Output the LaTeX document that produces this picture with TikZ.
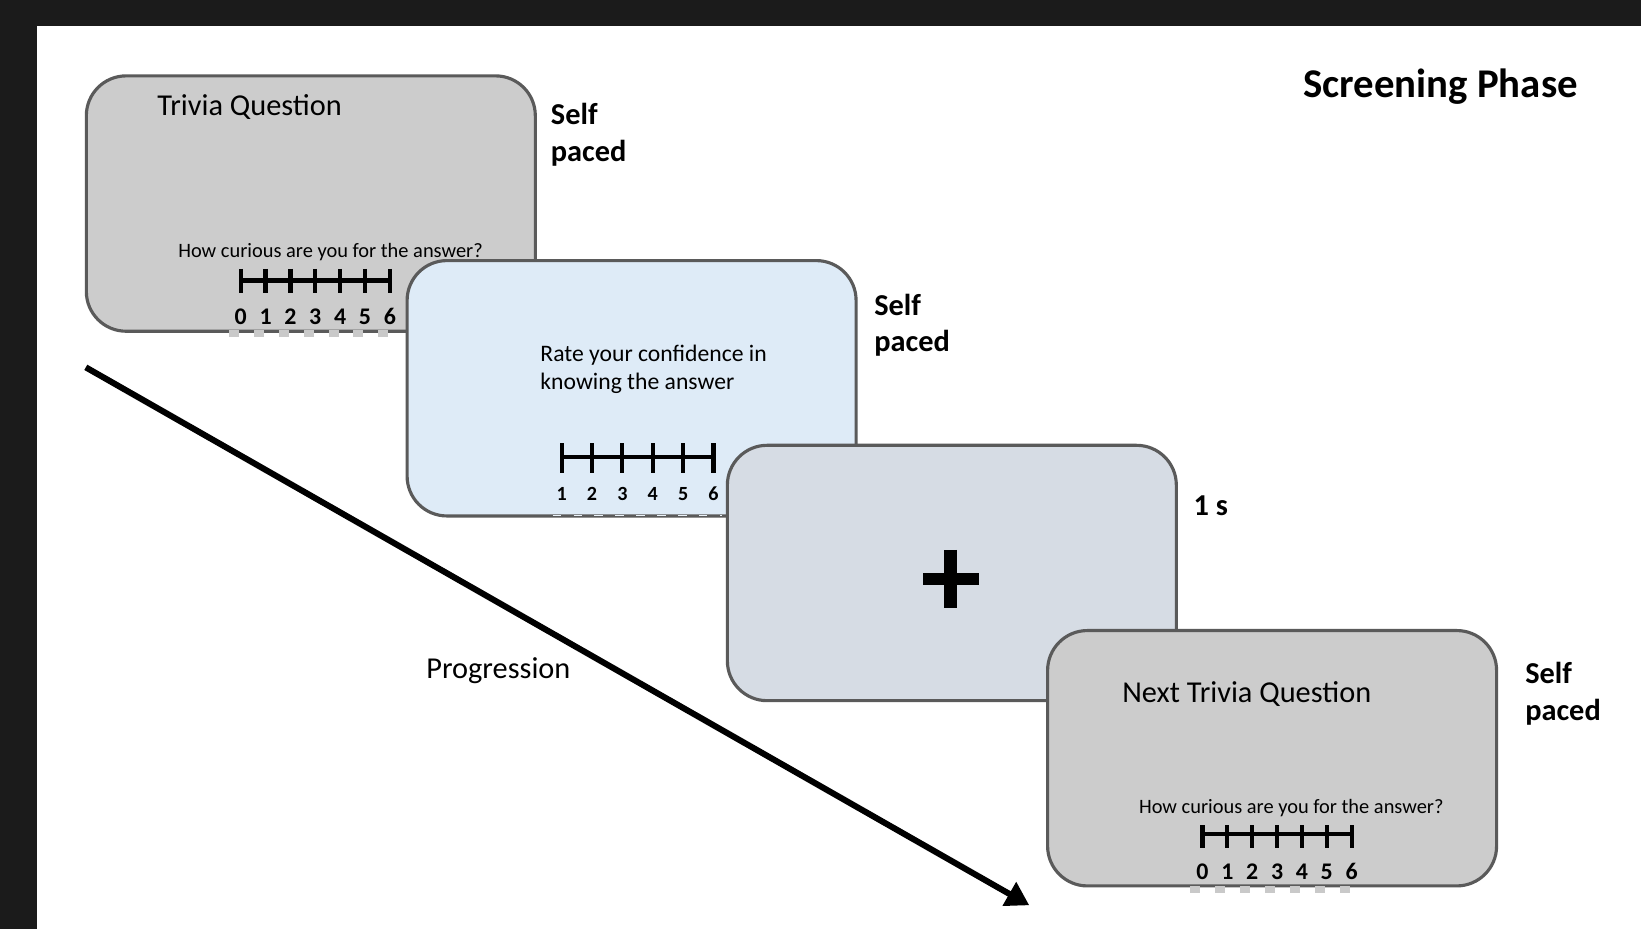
\documentclass[tikz,border=0pt]{standalone}
\usepackage{fontspec}
\setmainfont{Carlito}
\usetikzlibrary{arrows.meta}
\definecolor{bgdark}{HTML}{1B1B1B}
\definecolor{boxgray}{HTML}{CCCCCC}
\definecolor{boxblue}{HTML}{DEEBF7}
\definecolor{boxslate}{HTML}{D6DCE4}
\definecolor{edgegray}{HTML}{5A5A5A}
\definecolor{tabgray}{HTML}{C9C9C9}
\begin{document}
\begin{tikzpicture}[x=0.5pt,y=-0.5pt,
  screen/.style={draw=edgegray, line width=1.5pt, rounded corners=19pt,
    minimum width=214.5pt, minimum height=122pt, inner sep=0pt},
  timing/.style={inner sep=0pt, anchor=base west, align=left,
    font=\fontsize{14.5}{17.5}\selectfont\bfseries},
  heading/.style={inner sep=0pt, anchor=base west, font=\fontsize{14.5}{17.5}\selectfont},
  question/.style={inner sep=0pt, anchor=base west, font=\fontsize{9.75}{11}\selectfont},
  bigdigit/.style={inner sep=0pt, anchor=base, font=\fontsize{11.4}{13}\selectfont\bfseries},
  smalldigit/.style={inner sep=0pt, anchor=base, font=\fontsize{9.6}{11}\selectfont\bfseries},
  scaleline/.style={line width=2pt},
]
\useasboundingbox (0,0) rectangle (1568,888);
\fill[bgdark] (0,0) rectangle (1568,888);
\fill[white] (35,25) rectangle (1568,888);

% title
\node[inner sep=0pt, anchor=base west, font=\fontsize{19.5}{22}\selectfont\bfseries] (title) at (1245,93) {Screening Phase};

% progression arrow
\coordinate (pstart) at (82,351);
\coordinate (pend) at (983.5,865);
\draw[line width=2.9pt, -{Triangle[length=11pt,width=12.5pt]}] (pstart) -- (pend);
\node[heading] (prog) at (407,648) {Progression};

% ---------- screen 1 ----------
\node[screen, fill=boxgray] (s1) at (297,194.5) {};
\node[heading] (s1title) at (150,110) {Trivia Question};
\node[question] (s1q) at (170,246) {How curious are you for the answer?};
\draw[scaleline] (230,268) -- (372.5,268);
\foreach \i in {0,...,6}{
  \draw[scaleline] (230+23.75*\i,257) -- (230+23.75*\i,280);
  \node[bigdigit] (s1d\i) at (230+23.75*\i,310.5) {\i};
  \fill[tabgray] (219+23.75*\i,315.2) rectangle (228.5+23.75*\i,322);
}
\node[timing] (s1time) at (526,154) {Self\\paced};

% ---------- screen 2 ----------
\node[screen, fill=boxblue] (s2) at (603.5,371) {};
\node[inner sep=0pt, anchor=base west, align=left, font=\fontsize{11.3}{13.5}\selectfont] (s2q) at (516,372.5) {Rate your confidence in\\knowing the answer};
\draw[scaleline] (536.7,437) -- (681.7,437);
\foreach \i in {1,...,6}{
  \draw[scaleline] (536.7+29*\i-29,423.5) -- (536.7+29*\i-29,451.5);
  \node[smalldigit] (s2d\i) at (536.7+29*\i-29,478.7) {\i};
}
\draw[boxblue!60!white, line width=0.7pt, dash pattern=on 4pt off 6pt] (528,492.5) -- (690,492.5);
\node[timing] (s2time) at (835,336) {Self\\paced};

% ---------- screen 3 ----------
\node[screen, fill=boxslate] (s3) at (909.5,547.5) {};
\draw[line width=6pt, rounded corners=1pt] (882,553.2) -- (935,553.2);
\draw[line width=6pt] (908.4,525.5) -- (908.4,581.2);
\node[timing] (s3time) at (1140,493) {1 s};

% ---------- screen 4 ----------
\node[screen, fill=boxgray] (s4) at (1215.5,724.5) {};
\node[heading] (s4title) at (1072,671) {Next Trivia Question};
\node[question] (s4q) at (1088,777.5) {How curious are you for the answer?};
\draw[scaleline] (1149,797) -- (1291.5,797);
\foreach \i in {0,...,6}{
  \draw[scaleline] (1149+23.75*\i,788.5) -- (1149+23.75*\i,810.5);
  \node[bigdigit] (s4d\i) at (1149+23.75*\i,840.8) {\i};
  \fill[tabgray] (1137.5+23.75*\i,846.2) rectangle (1147+23.75*\i,853);
}
\node[timing] (s4time) at (1457,688) {Self\\paced};
\end{tikzpicture}
\end{document}
